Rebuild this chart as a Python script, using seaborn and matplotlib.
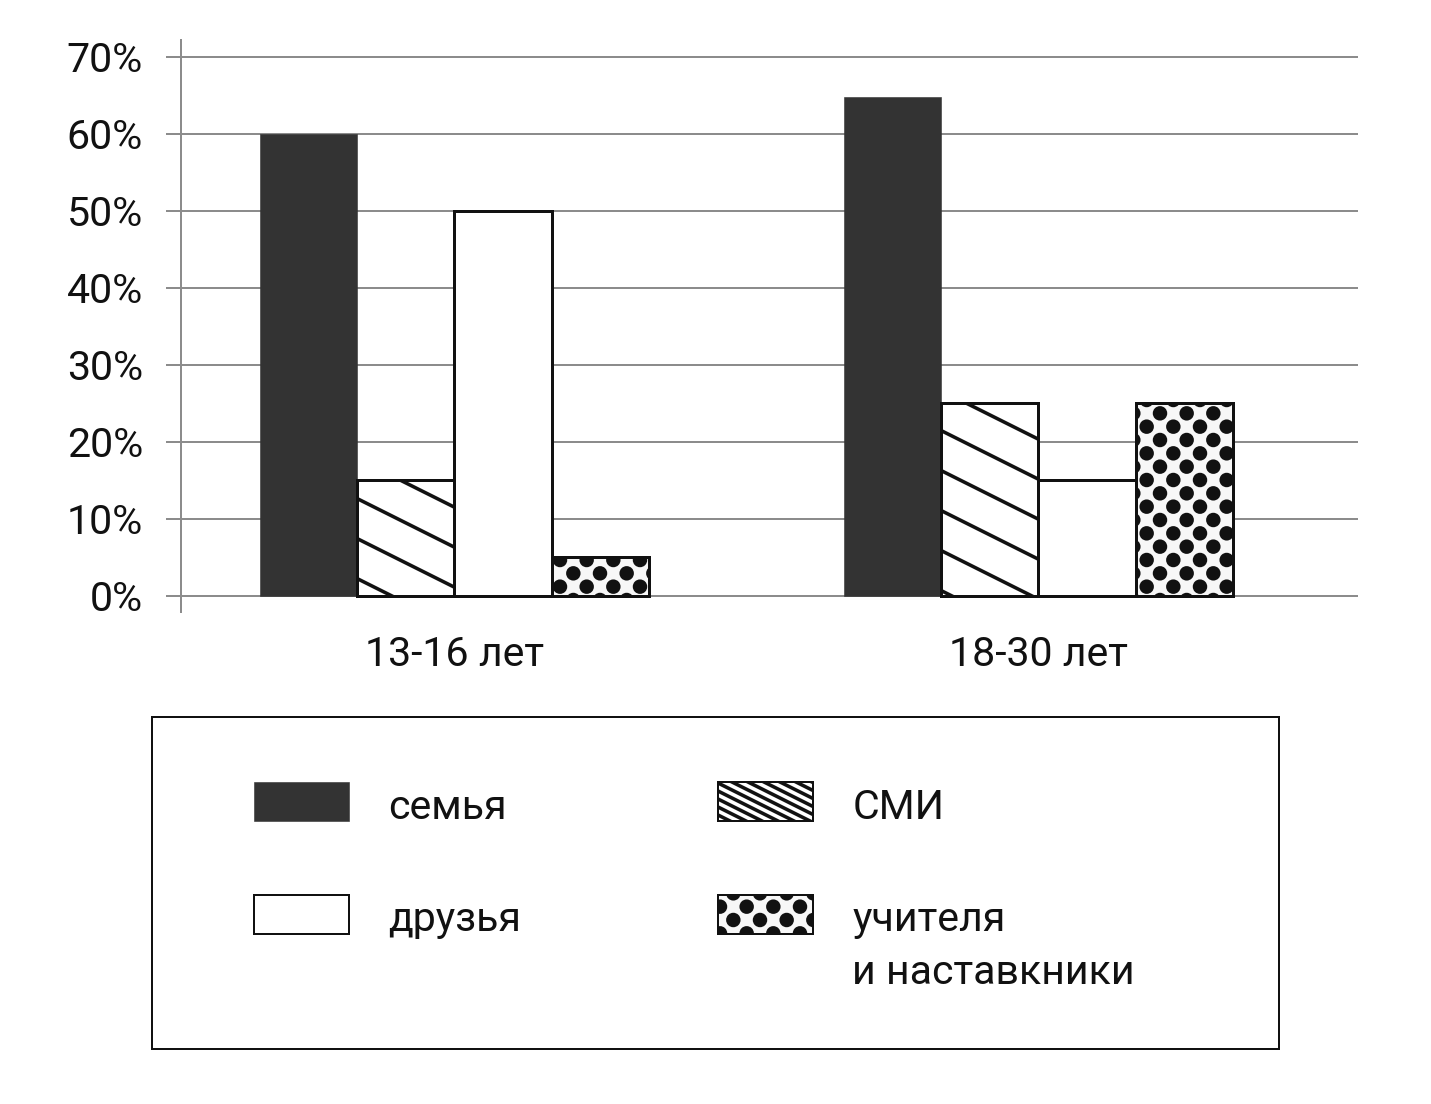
import numpy as np
import pandas as pd
import matplotlib
matplotlib.use('Agg')
import matplotlib.pyplot as plt
import matplotlib.hatch as mhatch
from matplotlib.path import Path
from matplotlib.patches import Patch, Rectangle
import seaborn as sns

# ---------------- data ----------------
age_groups = ['13-16 лет', '18-30 лет']
sources = ['семья', 'СМИ', 'друзья', 'учителя и наставкники']
legend_labels = {'семья': 'семья', 'СМИ': 'СМИ', 'друзья': 'друзья',
                 'учителя и наставкники': 'учителя\nи наставкники'}
family_vals = [60, 64.8]
media_vals = [15, 25]
friends_vals = [50, 15]
teachers_vals = [5, 25]
y_ticks = [0, 10, 20, 30, 40, 50, 60, 70]
y_tick_labels = ['0%', '10%', '20%', '30%', '40%', '50%', '60%', '70%']

# ---------------- custom hatch patterns ----------------
class SlantHatch(mhatch.HatchPatternBase):
    """Lines falling to the right with slope 1/2; '\\' sparse, '\\\\' dense."""
    def __init__(self, hatch, density):
        n = hatch.count('\\')
        if n == 0:
            self.offsets = np.array([])
        else:
            s = 0.5 if n == 1 else 0.1
            ks = np.arange(int(np.floor(-0.6 / s)), int(np.ceil(1.6 / s)) + 1)
            self.offsets = ks * s
        self.num_lines = len(self.offsets)
        self.num_vertices = self.num_lines * 2

    def set_vertices_and_codes(self, vertices, codes):
        e = 0.2
        c = self.offsets
        vertices[0::2, 0] = -e
        vertices[0::2, 1] = c + 0.5 * e
        vertices[1::2, 0] = 1 + e
        vertices[1::2, 1] = c - 0.5 * (1 + e)
        codes[0::2] = Path.MOVETO
        codes[1::2] = Path.LINETO


class DotHatch(mhatch.HatchPatternBase):
    """Staggered filled dots."""
    def __init__(self, hatch, density):
        n = hatch.count('.')
        circ = Path.unit_circle()
        self.shape_vertices = circ.vertices
        self.shape_codes = circ.codes
        pts = []
        if n:
            for i in range(-1, 8):
                y = i / 6
                shift = (i % 2) / 6
                for j in range(-1, 5):
                    pts.append((j / 3 + shift, y))
        self.centers = np.array(pts).reshape(-1, 2)
        self.radius = 0.068
        self.num_vertices = len(self.centers) * len(self.shape_vertices)

    def set_vertices_and_codes(self, vertices, codes):
        nv = len(self.shape_vertices)
        for k, (x, y) in enumerate(self.centers):
            vertices[k * nv:(k + 1) * nv] = self.shape_vertices * self.radius + (x, y)
            codes[k * nv:(k + 1) * nv] = self.shape_codes


mhatch._hatch_types[:] = [mhatch.HorizontalHatch, mhatch.VerticalHatch,
                          mhatch.NorthEastHatch, SlantHatch, DotHatch]

# ---------------- style ----------------
sns.set_style('white')
plt.rcParams['font.family'] = ['Roboto', 'DejaVu Sans']
plt.rcParams['hatch.linewidth'] = 3.2
plt.rcParams['hatch.color'] = '#111111'

DPI = 80
W, H = 1431, 1104
fig = plt.figure(figsize=(W / DPI, H / DPI), dpi=DPI)
fig.patch.set_facecolor('white')

ax = fig.add_axes([181 / W, 1 - 612 / H, (1358 - 181) / W, (612 - 40) / H])

rows = []
for i, age in enumerate(age_groups):
    for src, vals in zip(sources, [family_vals, media_vals, friends_vals, teachers_vals]):
        rows.append({'age': age, 'source': src, 'value': vals[i]})
df = pd.DataFrame(rows)

palette = {'семья': '#333333', 'СМИ': '#ffffff', 'друзья': '#ffffff',
           'учителя и наставкники': '#f7f7f7'}
sns.barplot(data=df, x='age', y='value', hue='source', order=age_groups,
            hue_order=sources, palette=palette, saturation=1, width=0.666,
            gap=0, dodge=True, errorbar=None, legend=False, ax=ax)

styles = [
    dict(fc='#333333', ec='#333333', lw=0.5, hatch=None),
    dict(fc='#ffffff', ec='#111111', lw=2.7, hatch='\\'),
    dict(fc='#ffffff', ec='#111111', lw=2.7, hatch=None),
    dict(fc='#f7f7f7', ec='#111111', lw=2.7, hatch='.'),
]
for cont, st in zip(ax.containers, styles):
    for bar in cont:
        bar.set_facecolor(st['fc'])
        bar.set_edgecolor(st['ec'])
        bar.set_linewidth(st['lw'])
        if st['hatch']:
            bar.set_hatch(st['hatch'])

ax.set_xlim(-0.468, 1.547)
ax.set_ylim(-2.08, 72.2)
ax.set_yticks(y_ticks)
ax.set_yticklabels(y_tick_labels)
ax.set_xlabel('')
ax.set_ylabel('')
grid_c = '#8c8c8c'
ax.tick_params(axis='y', length=13.5, width=1.8, color=grid_c, pad=20.7,
               labelsize=37, labelcolor='#111111', left=True)
ax.tick_params(axis='x', length=0, pad=20.7, labelsize=37, labelcolor='#111111')
ax.grid(axis='y', color=grid_c, lw=1.8)
ax.grid(axis='x', visible=False)
ax.set_axisbelow(True)
for side in ['top', 'right', 'bottom']:
    ax.spines[side].set_visible(False)
ax.spines['left'].set_color(grid_c)
ax.spines['left'].set_linewidth(1.8)

# ---------------- legend ----------------
frame = Rectangle((152 / W, 1 - 1049 / H), (1279 - 152) / W, (1049 - 717) / H,
                  transform=fig.transFigure, fill=False, ec='#111111', lw=1.8)
fig.add_artist(frame)

hmap = {
    'семья': Patch(fc='#333333', ec='#333333', lw=0.5),
    'друзья': Patch(fc='#ffffff', ec='#111111', lw=1.8),
    'СМИ': Patch(fc='#ffffff', ec='#111111', lw=1.8, hatch='\\\\'),
    'учителя и наставкники': Patch(fc='#f7f7f7', ec='#111111', lw=1.8, hatch='.'),
}
order = ['семья', 'друзья', 'СМИ', 'учителя и наставкники']
labs = []
for k in order:
    lab = legend_labels[k]
    if '\n' not in lab:
        lab = lab + '\n'
    labs.append(lab)

fs = 37
fpx = fs * DPI / 72
leg = fig.legend([hmap[k] for k in order], labs, ncol=2, loc='upper left',
                 bbox_to_anchor=(254 / W, 1 - 788 / H), bbox_transform=fig.transFigure,
                 frameon=False, borderpad=0, borderaxespad=0, fontsize=fs,
                 handlelength=95 / fpx, handleheight=1.083,
                 handletextpad=39 / fpx, columnspacing=4.8, labelspacing=0.49)
for t in leg.get_texts():
    t.set_linespacing(1.45)
    t.set_color('#111111')
for h in leg.legend_handles:
    h.set_y(h.get_y() + 30.2)

fig.savefig('out.png', dpi=DPI, facecolor='white')
